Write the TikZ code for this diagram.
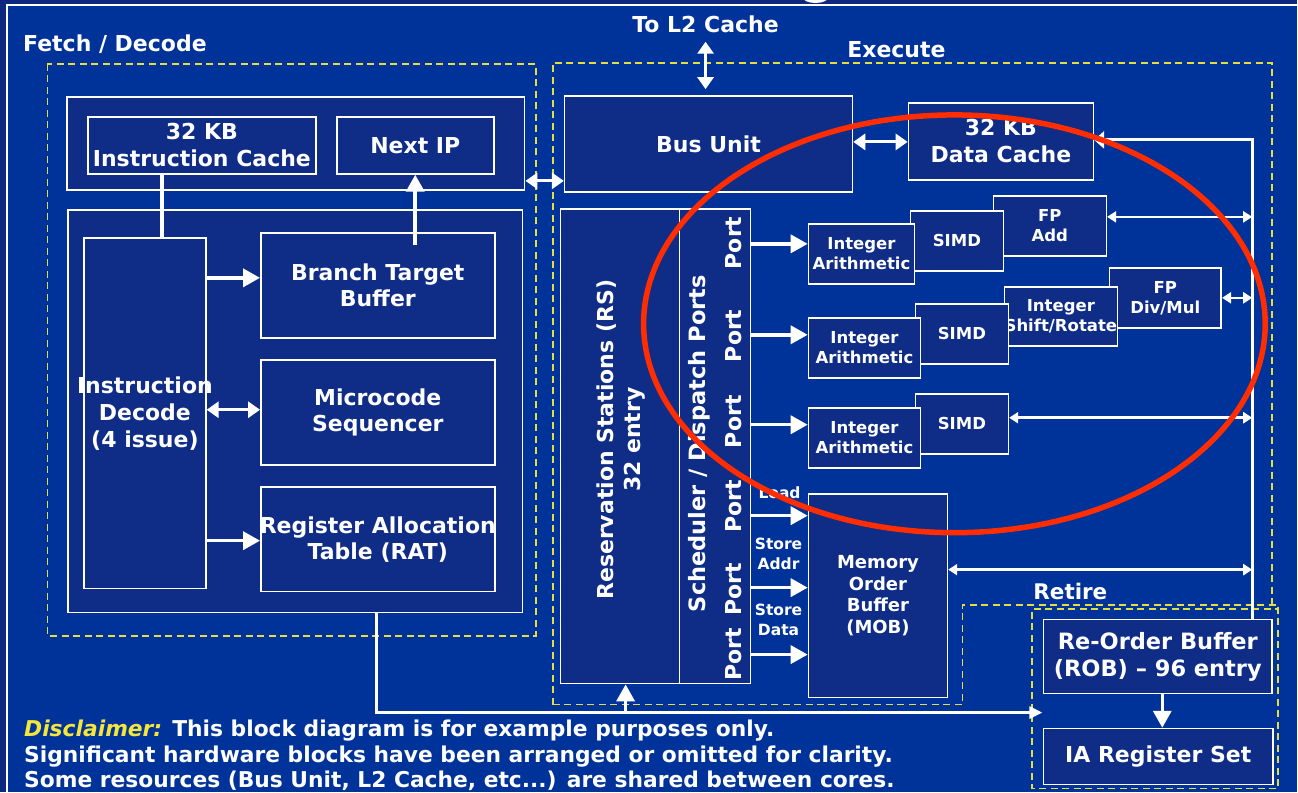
\documentclass[tikz,border=0pt]{standalone}
\usepackage{fontspec}
\setmainfont{DejaVu Sans}
\usetikzlibrary{arrows.meta}
\definecolor{navy}{RGB}{14,40,130}
\definecolor{panel}{RGB}{0,51,153}
\definecolor{boxfill}{RGB}{15,44,135}
\definecolor{dashy}{RGB}{228,222,64}
\definecolor{ring}{RGB}{255,45,0}
\definecolor{discy}{RGB}{245,230,60}
% bold font at a given size / baseline skip
\newcommand\fs[2]{\fontsize{#1}{#2}\selectfont\bfseries}
% a line of text that does not widen its box
\newcommand\nowd[1]{\makebox[0pt]{#1}}
% hardware block from corner (x1,y1) to (x2,y2), y growing downwards
\newcommand\hwbox[7][]{\node[blk,#1,minimum width={#5-#3},minimum height={#6-#4}] (#2) at ({(#3+#5)/2},{(#4+#6)/2}) {#7};}
\begin{document}
\begin{tikzpicture}[x=1pt,y=-1pt,
  blk/.style={draw=white, line width=1.6pt, fill=boxfill, inner sep=0pt, text=white, align=center, font=\fs{22}{27}},
  lbl/.style={text=white, inner sep=0pt, align=center, font=\fs{22}{27}},
  smallfont/.style={font=\fs{16.5}{20}},
  stage/.style={draw=dashy, line width=1.8pt, dash pattern=on 7pt off 4.5pt},
  wire/.style={draw=white, line width=3.5pt},
  onearrow/.style={wire, -{Triangle[length=17pt,width=18pt]}},
  dblarrow/.style={draw=white, line width=3pt, {Triangle[length=12pt,width=16pt]}-{Triangle[length=12pt,width=16pt]}},
  thindbl/.style={draw=white, line width=2.5pt, {Triangle[length=9pt,width=11pt]}-{Triangle[length=9pt,width=11pt]}},
]
% slide background and frame
\fill[navy] (0,0) rectangle (1298,792);
\fill[panel] (7,5) rectangle (1298,792);
\draw[white, line width=1.6pt] (7,792) -- (7,5) -- (1298,5);
\useasboundingbox (0,0) rectangle (1298,792);
\fill[white] (816,-3) ellipse [x radius=13pt, y radius=6pt];

% pipeline stages
\draw[stage] (47.5,64) rectangle (536,636);
\draw[stage] (553,705) -- (553,63) -- (1273,63) -- (1273,605);
\draw[stage] (553,705) -- (963,705) -- (963,605) -- (1279,605) -- (1279,789) -- (1033,789) -- (1033,609) -- (1279,609);

\node[lbl, anchor=base west] (fetchlbl) at (23,52) {Fetch / Decode};
\node[lbl] (execlbl) at (897,50) {Execute};
\node[lbl, font=\fs{21.5}{26}] (retirelbl) at (1071,592) {Retire};
\node[lbl] (l2) at (706,24) {To L2 Cache};

% fetch / decode
\hwbox{fetchtop}{67}{97}{525}{190}{}
\hwbox{icache}{88}{117}{316}{174}{32 KB\\Instruction Cache}
\hwbox{nextip}{337}{117}{494}{174}{Next IP}
\hwbox{fetchlow}{68}{210}{523}{613}{}
\hwbox{idec}{84}{238}{206}{589}{\nowd{Instruction}\\Decode\\(4 issue)}
\hwbox[font=\fs{22}{25.5}]{btb}{261}{233}{495}{338}{Branch Target\\Buffer}
\hwbox[font=\fs{22}{26}]{mseq}{261}{360}{495}{465}{Microcode\\Sequencer}
\hwbox[font=\fs{22}{26}]{rat}{261}{487}{495}{592}{\nowd{Register Allocation}\\Table (RAT)}

% execute
\hwbox{bus}{565}{96}{853}{192}{Bus Unit}
\hwbox{dcache}{909}{103}{1094}{180}{32 KB\\Data Cache}
\hwbox{rs}{561}{209}{751}{684}{}
\draw[white, line width=1.6pt] (rs.north -| 680,0) -- (rs.south -| 680,0);
\node[lbl, rotate=90] (rstext) at (621,440) {Reservation Stations (RS)\\32 entry};
\node[lbl, rotate=90, font=\fs{22.5}{27}] (schedtext) at (700,444) {Scheduler / Dispatch Ports};
\foreach \py/\pn in {243/1,336/2,422/3,507/4,590/5,655/6}
  \node[lbl, rotate=90] (port\pn) at (734,\py) {Port};

\hwbox[smallfont]{fpadd}{994}{196}{1107}{256}{FP\\Add}
\hwbox[smallfont]{simd1}{911}{211}{1004}{271}{SIMD}
\hwbox[smallfont]{ia1}{809}{224}{915}{284}{Integer\\Arithmetic}
\hwbox[smallfont]{fpdiv}{1110}{268}{1222}{328}{FP\\Div/Mul}
\hwbox[smallfont]{shift}{1005}{287}{1118}{346}{Integer\\\nowd{Shift/Rotate}}
\hwbox[smallfont]{simd2}{916}{304}{1009}{364}{SIMD}
\hwbox[smallfont]{ia2}{809}{318}{921}{378}{Integer\\Arithmetic}
\hwbox[smallfont]{simd3}{916}{394}{1009}{454}{SIMD}
\hwbox[smallfont]{ia3}{809}{408}{921}{468}{Integer\\Arithmetic}
\hwbox[font=\fs{18}{21.5}]{mob}{809}{494}{948}{698}{Memory\\Order\\Buffer\\(MOB)}

\node[lbl, font=\fs{15.5}{20}] (ldlbl) at (780,493) {Load};
\node[lbl, font=\fs{15.5}{20}] (salbl) at (779,554) {Store\\Addr};
\node[lbl, font=\fs{15.5}{20}] (sdlbl) at (779,620) {Store\\Data};

% retire
\hwbox[font=\fs{22.5}{27}]{rob}{1044}{620}{1273}{694}{Re-Order Buffer\\(ROB) – 96 entry}
\hwbox{iars}{1044}{729}{1274}{785}{IA Register Set}

% fetch / decode connections
\draw[wire] (icache.south -| 162,0) -- (idec.north -| 162,0);
\coordinate (btbtap) at ([yshift=-13pt]btb.north);
\draw[onearrow] (btbtap -| nextip.south) -- (nextip.south);
\draw[onearrow] (idec.east |- 0,278) -- (btb.west |- 0,278);
\draw[dblarrow] (idec.east |- 0,410) -- (mseq.west |- 0,410);
\draw[onearrow] (idec.east |- 0,541) -- (rat.west |- 0,541);
\draw[dblarrow] (fetchtop.east |- 0,181) -- (bus.west |- 0,181);

% bus unit and data cache
\draw[dblarrow, shorten <=9pt, shorten >=6pt] (l2.south) -- (bus.north -| l2.south);
\draw[dblarrow] (bus.east |- 0,142) -- (dcache.west |- 0,142);

% dispatch ports
\draw[onearrow] (rs.east |- 0,244) -- (ia1.west |- 0,244);
\draw[onearrow] (rs.east |- 0,335) -- (ia2.west |- 0,335);
\draw[onearrow] (rs.east |- 0,425) -- (ia3.west |- 0,425);
\draw[onearrow] (rs.east |- 0,516) -- (mob.west |- 0,516);
\draw[onearrow] (rs.east |- 0,588) -- (mob.west |- 0,588);
\draw[onearrow] (rs.east |- 0,655) -- (mob.west |- 0,655);

% result rail from the re-order buffer
\coordinate (railtop) at (1253,140);
\draw[wire, line width=3pt, -{Triangle[length=10pt,width=17pt]}] (rob.north -| railtop) -- (railtop) -- (dcache.east |- railtop);
\draw[thindbl] (fpadd.east |- 0,217) -- (railtop |- 0,217);
\draw[thindbl] (fpdiv.east) -- (fpdiv.east -| railtop);
\draw[thindbl] (simd3.east |- 0,418) -- (railtop |- 0,418);
\draw[thindbl] (mob.east |- 0,570) -- (railtop |- 0,570);
\draw[onearrow] (rob.south -| 1163,0) -- (iars.north -| 1163,0);

% allocation path to the reservation stations and retirement
\coordinate (retin) at (1043,713);
\coordinate (rsfeed) at (626,713);
\draw[wire, line width=3pt, -{Triangle[length=13pt,width=12pt]}] (fetchlow.south -| 377,0) |- (retin);
\draw[onearrow] (rsfeed) -- (rs.south -| rsfeed);

% highlight
\draw[ring, line width=5.5pt] (955,324) ellipse [x radius=311pt, y radius=209pt];

% disclaimer
\node[lbl, anchor=base west, font=\fs{21.8}{25}] (disc1) at (24,737) {\textcolor{discy}{\itshape Disclaimer:} This block diagram is for example purposes only.};
\node[lbl, anchor=base west, font=\fs{21.8}{25}] (disc2) at (24,763) {Significant hardware blocks have been arranged or omitted for clarity.};
\node[lbl, anchor=base west, font=\fs{21.8}{25}] (disc3) at (24,788) {Some resources (Bus Unit, L2 Cache, etc...) are shared between cores.};
\end{tikzpicture}
\end{document}
